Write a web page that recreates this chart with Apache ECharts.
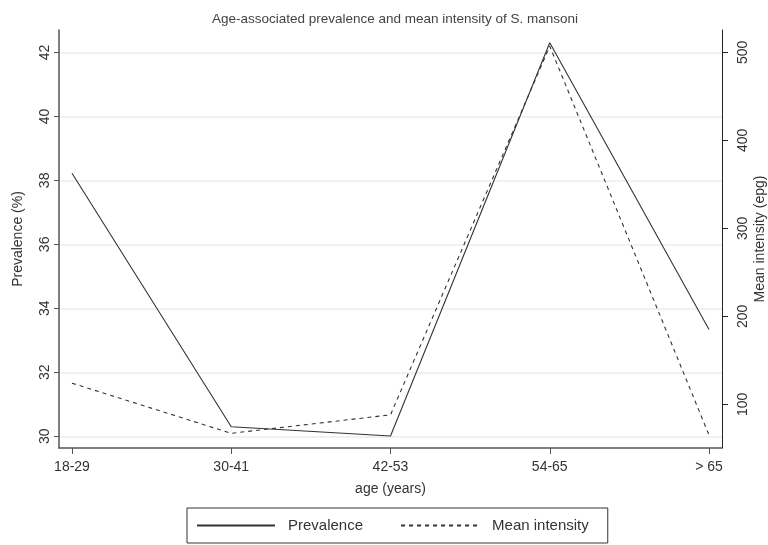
<!DOCTYPE html>
<html>
<head>
<meta charset="utf-8">
<script src="https://cdn.jsdelivr.net/npm/echarts@6/dist/echarts.min.js"></script>
<style>
html,body{margin:0;padding:0;background:#fff;}
#chart{width:768px;height:545px;}
</style>
</head>
<body>
<div id="chart"></div>
<script>
var categories = ['18-29', '30-41', '42-53', '54-65', '> 65'];
var prevalence = [38.22, 30.30, 30.01, 42.30, 33.34];
var meanIntensity = [124, 67, 88, 507, 65];
var leftTicks = [30, 32, 34, 36, 38, 40, 42];
var rightTicks = [100, 200, 300, 400, 500];
var catIndex = [0, 1, 2, 3, 4];

var font = 'Liberation Sans, Arial, sans-serif';
var axisColor = '#555';
var textColor = '#333';

var chart = echarts.init(document.getElementById('chart'));
chart.setOption({
  backgroundColor: '#fff',
  animation: false,
  title: {
    text: 'Age-associated prevalence and mean intensity of S. mansoni',
    left: 390, textAlign: 'center', top: 7,
    textStyle: {fontFamily: font, fontSize: 13.5, fontWeight: 'normal', color: '#444'}
  },
  legend: {
    left: 187, top: 508,
    padding: [10, 19, 10, 9],
    borderColor: '#333', borderWidth: 1,
    itemWidth: 78, itemHeight: 12, itemGap: 37,
    itemStyle: {opacity: 0},
    textStyle: {fontFamily: font, fontSize: 15, color: textColor, padding: [0, 0, 0, 8]},
    data: ['Prevalence', 'Mean intensity']
  },
  grid: {left: 59, right: 46, top: 30, bottom: 97, containLabel: false, outerBoundsMode: 'none'},
  xAxis: {
    type: 'value', min: -0.0816, max: 4.0816,
    name: 'age (years)', nameLocation: 'middle', nameGap: 34,
    nameTextStyle: {fontFamily: font, fontSize: 14, color: textColor},
    axisLine: {show: true, onZero: false, lineStyle: {color: axisColor, width: 1.5}},
    axisTick: {show: true, length: 6, lineStyle: {color: axisColor}, customValues: catIndex},
    axisLabel: {customValues: catIndex, margin: 12, fontFamily: font, fontSize: 14, color: textColor,
      formatter: function (v) { return categories[Math.round(v)]; }},
    splitLine: {show: false}
  },
  yAxis: [{
    type: 'value', position: 'left', min: 29.634, max: 42.70,
    name: 'Prevalence (%)', nameLocation: 'middle', nameGap: 34, nameMoveOverlap: false,
    nameTextStyle: {fontFamily: font, fontSize: 14, color: textColor},
    axisLine: {show: true, onZero: false, lineStyle: {color: axisColor, width: 1.5}},
    axisTick: {show: true, length: 5, lineStyle: {color: axisColor}, customValues: leftTicks},
    axisLabel: {customValues: leftTicks, rotate: 90, margin: 7, fontFamily: font, fontSize: 14, color: textColor},
    splitLine: {show: true, lineStyle: {color: '#e6eff4', width: 1.5}}
  }, {
    type: 'value', position: 'right', min: 50.3, max: 525.4,
    name: 'Mean intensity (epg)', nameLocation: 'middle', nameGap: 31, nameMoveOverlap: false,
    nameTextStyle: {fontFamily: font, fontSize: 14, color: textColor},
    axisLine: {show: true, onZero: false, lineStyle: {color: '#222', width: 1}},
    axisTick: {show: true, length: 6, lineStyle: {color: '#222'}, customValues: rightTicks},
    axisLabel: {customValues: rightTicks, rotate: 90, margin: 14, fontFamily: font, fontSize: 14, color: textColor},
    splitLine: {show: false}
  }],
  series: [{
    name: 'Prevalence', type: 'line', yAxisIndex: 0, symbol: 'none',
    lineStyle: {color: '#333', width: 1.1, type: 'solid'},
    itemStyle: {color: '#333'},
    data: catIndex.map(function (i) { return [i, prevalence[i]]; })
  }, {
    name: 'Mean intensity', type: 'line', yAxisIndex: 1, symbol: 'none',
    lineStyle: {color: '#333', width: 1.1, type: [4, 4]},
    itemStyle: {color: '#333'},
    data: catIndex.map(function (i) { return [i, meanIntensity[i]]; })
  }]
});
</script>
</body>
</html>
